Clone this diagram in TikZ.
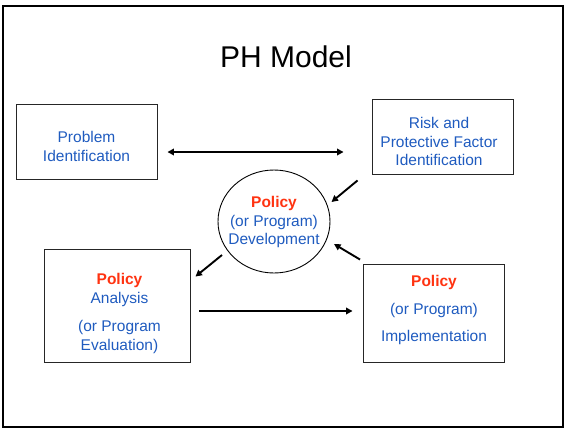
\documentclass[tikz,border=0pt]{standalone}
\usepackage{fontspec}
\setmainfont{Liberation Sans}
\usetikzlibrary{arrows.meta,calc}
\definecolor{tblue}{HTML}{1F5BBF}
\definecolor{tred}{HTML}{FF3311}
\begin{document}
\begin{tikzpicture}[x=1pt,y=-1pt,
  box/.style={draw=black!85,line width=0.9pt,inner sep=0pt},
  txt/.style={text=tblue,align=center,font=\fontsize{15.5}{18.5}\selectfont,inner sep=0pt},
  arr/.style={line width=1.9pt,-{Triangle[length=6.5pt,width=6.5pt]}},
  darr/.style={line width=1.9pt,{Triangle[length=6.5pt,width=6.5pt]}-{Triangle[length=6.5pt,width=6.5pt]}}]
\useasboundingbox (0,0) rectangle (565,429);
\node[draw=black,line width=1.8pt,minimum width=560pt,minimum height=421pt,inner sep=0pt] (frame) at (283,216.5) {};
\node[font=\fontsize{30}{34}\selectfont,inner sep=0pt] (title) at (286,57) {PH Model};
% boxes
\node[box,minimum width=141pt,minimum height=75pt] (prob) at (86.5,141.5) {};
\node[box,minimum width=141pt,minimum height=75pt] (risk) at (442.5,136.5) {};
\node[box,minimum width=146pt,minimum height=113pt] (anal) at (117,305.5) {};
\node[box,minimum width=141pt,minimum height=98pt] (impl) at (433.5,313) {};
\draw[black,line width=0.9pt] (274,221.5) ellipse [x radius=56pt,y radius=51.5pt];
\node[minimum width=112pt,minimum height=103pt,inner sep=0pt] (dev) at (274,221.5) {};
% texts
\node[txt] (probt) at (86.5,146.5) {Problem\\Identification};
\node[txt] (riskt) at (439,141.5) {Risk and\\Protective Factor\\Identification};
\node[txt] (devt) at (274,222) {\textcolor{tred}{\textbf{Policy}}\\(or Program)\\Development};
\node[txt] (analt) at (119.5,313.5) {\textcolor{tred}{\textbf{Policy}}\\Analysis\\[10pt](or Program\\Evaluation)};
\node[txt] (implt) at (434,310) {\textcolor{tred}{\textbf{Policy}}\\[9pt](or Program)\\[9pt]Implementation};
% arrows
\draw[darr] ($(prob.east)+(10,10.5)$) -- ($(risk.west)+(-28,15.5)$);
\draw[arr] ($(risk.south west)+(-14,6)$) -- ($(dev.center)+(57.5,-19.5)$);
\draw[arr] ($(impl.north west)+(-2.5,-4)$) -- ($(dev.center)+(60,22.5)$);
\draw[arr] ($(dev.center)+(-52,33.5)$) -- ($(anal.north east)+(5,28)$);
\draw[arr] ($(anal.east)+(9,5.5)$) -- ($(impl.west)+(-10,-2)$);
\end{tikzpicture}
\end{document}
